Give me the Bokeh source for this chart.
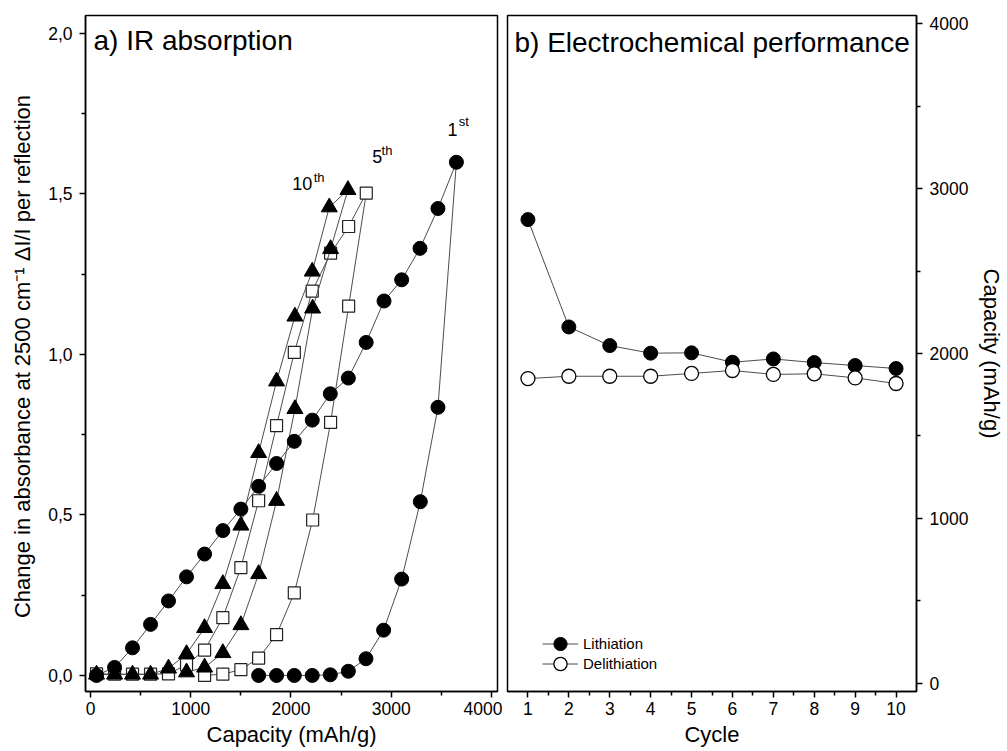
from bokeh.plotting import figure
from bokeh.layouts import row
from bokeh.models import (FixedTicker, CustomJSTickFormatter, Range1d, Label,
                          Legend, LegendItem)
from bokeh.embed import file_html
from bokeh.resources import INLINE

# ---------------- data ----------------
# a) IR absorption: capacity (mAh/g) vs change in absorbance
cyc1_cap = [60, 240, 419, 599, 778, 958, 1138, 1320, 1500, 1677, 1856, 2033, 2212,
            2392, 2572, 2750, 2928, 3104, 3287, 3466, 3650,
            3466, 3290, 3104, 2924, 2748, 2572, 2392, 2212, 2033, 1856, 1677]
cyc1_abs = [0.0, 0.025, 0.086, 0.159, 0.232, 0.307, 0.378, 0.451, 0.518, 0.589, 0.660,
            0.729, 0.795, 0.877, 0.926, 1.037, 1.166, 1.232, 1.330, 1.454, 1.598,
            0.835, 0.541, 0.300, 0.141, 0.052, 0.013, 0.002, 0.0, 0.0, 0.0, 0.0]

cyc5_cap = [60, 240, 419, 599, 778, 958, 1138, 1320, 1500, 1677, 1856, 2033, 2212,
            2395, 2575, 2751,
            2575, 2395, 2216, 2033, 1856, 1677, 1500, 1320, 1138]
cyc5_abs = [0.005, 0.004, 0.004, 0.004, 0.005, 0.033, 0.079, 0.180, 0.336, 0.544,
            0.778, 1.006, 1.197, 1.315, 1.398, 1.502,
            1.150, 0.788, 0.484, 0.257, 0.127, 0.054, 0.018, 0.004, 0.0]

cyc10_cap = [60, 240, 419, 599, 778, 958, 1138, 1320, 1500, 1677, 1856, 2039, 2212,
             2382, 2568,
             2395, 2216, 2039, 1856, 1677, 1500, 1320, 1138, 958]
cyc10_abs = [0.003, 0.003, 0.003, 0.003, 0.022, 0.067, 0.148, 0.285, 0.467, 0.693,
             0.916, 1.118, 1.258, 1.458, 1.512,
             1.328, 1.143, 0.830, 0.544, 0.316, 0.157, 0.070, 0.025, 0.010]

# b) Electrochemical performance
cycles = [1, 2, 3, 4, 5, 6, 7, 8, 9, 10]
lithiation = [2812, 2161, 2048, 2002, 2004, 1947, 1967, 1945, 1927, 1909]
delithiation = [1848, 1862, 1862, 1862, 1879, 1897, 1873, 1877, 1852, 1818]

x1_ticks = [0, 1000, 2000, 3000, 4000]
x1_minor = [500, 1500, 2500, 3500]
y1_ticks = [0.0, 0.5, 1.0, 1.5, 2.0]
y1_minor = [0.25, 0.75, 1.25, 1.75]
x2_ticks = cycles
x2_minor = [1.5, 2.5, 3.5, 4.5, 5.5, 6.5, 7.5, 8.5, 9.5]
y2_ticks = [0, 1000, 2000, 3000, 4000]
y2_minor = [500, 1500, 2500, 3500]

FONT = "Liberation Sans"
LINE_COLOR = "#4d4d4d"
H = 751
TOP = 15
BOTTOM = 60
TICK_FS = "17.5px"


def style_axis(ax, label_fs="22px"):
    ax.major_label_text_font = FONT
    ax.major_label_text_font_size = TICK_FS
    ax.major_label_text_color = "black"
    ax.axis_label_text_font = FONT
    ax.axis_label_text_font_size = label_fs
    ax.axis_label_text_font_style = "normal"
    ax.axis_label_text_color = "black"
    ax.axis_line_color = "black"
    ax.axis_line_width = 1.5
    ax.major_tick_line_color = "black"
    ax.major_tick_line_width = 1.5
    ax.minor_tick_line_color = "black"
    ax.minor_tick_line_width = 1.5
    ax.major_tick_in = 0
    ax.major_tick_out = 6
    ax.minor_tick_in = 0
    ax.minor_tick_out = 4


def base_fig(xr, yr, width, mbl, mbr, **kw):
    p = figure(x_range=xr, y_range=yr, width=width, height=H,
               min_border_left=mbl, min_border_right=mbr,
               min_border_top=TOP, min_border_bottom=BOTTOM,
               output_backend="svg", toolbar_location=None, **kw)
    p.grid.visible = False
    p.outline_line_color = "black"
    p.outline_line_width = 1.5
    p.background_fill_color = "white"
    p.border_fill_color = "white"
    return p


# ---------------- left panel ----------------
p1 = base_fig(Range1d(-50, 4060), Range1d(-0.05, 2.055), 502, 85, 5)
p1.xaxis.ticker = FixedTicker(ticks=x1_ticks, minor_ticks=x1_minor)
p1.yaxis.ticker = FixedTicker(ticks=y1_ticks, minor_ticks=y1_minor)
p1.yaxis.formatter = CustomJSTickFormatter(code="return tick.toFixed(1).replace('.', ',');")
p1.xaxis.axis_label = "Capacity (mAh/g)"
p1.yaxis.axis_label = "Change in absorbance at 2500 cm\u207b\u00b9  \u0394I/I per reflection"
style_axis(p1.xaxis[0])
style_axis(p1.yaxis[0])
p1.xaxis.major_label_standoff = 4
p1.xaxis.axis_label_standoff = 4
p1.yaxis.major_label_standoff = 7
p1.yaxis.axis_label_standoff = 10

p1.line(cyc5_cap, cyc5_abs, line_color=LINE_COLOR, line_width=1)
p1.scatter(cyc5_cap, cyc5_abs, marker="square", size=12, fill_color="white",
           line_color="#222222", line_width=1.2)
p1.line(cyc10_cap, cyc10_abs, line_color=LINE_COLOR, line_width=1)
p1.scatter(cyc10_cap, cyc10_abs, marker="triangle", size=16, fill_color="black",
           line_color="black")
p1.line(cyc1_cap, cyc1_abs, line_color=LINE_COLOR, line_width=1)
p1.scatter(cyc1_cap, cyc1_abs, marker="circle", size=14, fill_color="black",
           line_color="black")


def add_label(p, x, y, text, size):
    p.add_layout(Label(x=x, y=y, text=text, text_font=FONT, text_font_size=size,
                       text_color="black", text_baseline="alphabetic",
                       text_align="left"))


add_label(p1, 30, 1.976, "a) IR absorption", "28px")
add_label(p1, 3560, 1.699, "1", "18px")
add_label(p1, 3673, 1.726, "st", "13px")
add_label(p1, 2811, 1.616, "5", "18px")
add_label(p1, 2904, 1.635, "th", "13px")
add_label(p1, 2013, 1.533, "10", "18px")
add_label(p1, 2226, 1.551, "th", "13px")

# ---------------- right panel ----------------
p2 = base_fig(Range1d(0.5, 10.5), Range1d(-50, 4050), 505, 5, 89,
              y_axis_location="right")
p2.xaxis.ticker = FixedTicker(ticks=x2_ticks, minor_ticks=x2_minor)
p2.yaxis.ticker = FixedTicker(ticks=y2_ticks, minor_ticks=y2_minor)
p2.xaxis.axis_label = "Cycle"
p2.yaxis.axis_label = "Capacity (mAh/g)"
style_axis(p2.xaxis[0])
style_axis(p2.yaxis[0])
p2.xaxis.major_label_standoff = 4
p2.xaxis.axis_label_standoff = 4
p2.yaxis.major_label_standoff = 7
p2.yaxis.axis_label_standoff = 8

l_line = p2.line(cycles, lithiation, line_color=LINE_COLOR, line_width=1)
l_sc = p2.scatter(cycles, lithiation, marker="circle", size=14, fill_color="black",
                  line_color="black")
d_line = p2.line(cycles, delithiation, line_color=LINE_COLOR, line_width=1)
d_sc = p2.scatter(cycles, delithiation, marker="circle", size=14, fill_color="white",
                  line_color="black", line_width=1.3)

add_label(p2, 0.67, 3886, "b) Electrochemical performance", "28px")


def make_legend(label, renderers, y_off):
    return Legend(items=[LegendItem(label=label, renderers=renderers)],
                  location=(35, y_off), glyph_width=36, glyph_height=33,
                  padding=0, margin=0, border_line_color=None,
                  background_fill_alpha=0, label_text_font=FONT,
                  label_text_color="black",
                  label_text_font_size="15px", label_standoff=5)


p2.add_layout(make_legend("Lithiation", [l_line, l_sc], 31))
p2.add_layout(make_legend("Delithiation", [d_line, d_sc], 11))

layout = row(p1, p2)
open("out.html", "w").write(file_html(layout, INLINE))
